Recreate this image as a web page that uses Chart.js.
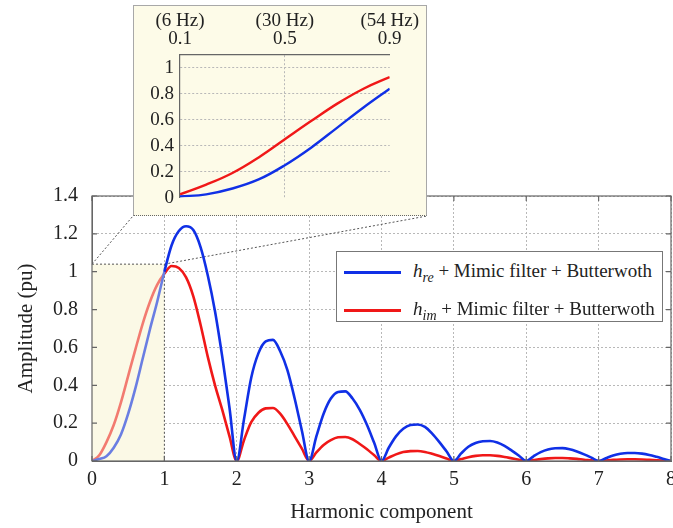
<!DOCTYPE html>
<html>
<head>
<meta charset="utf-8">
<script src="https://cdn.jsdelivr.net/npm/chart.js@4.4.1/dist/chart.umd.min.js"></script>
<style>
    html, body { margin: 0; padding: 0; width: 673px; height: 528px; overflow: hidden; background: #fff; }
    #mainWrap { position: absolute; left: 0; top: 0; width: 683px; height: 528px; }
    #inset { position: absolute; left: 133px; top: 5px; width: 292px; height: 209px;
             background: #fdfbe8; border: 1px solid #a8a8a8; border-bottom: 1px dotted #666; }
    #insetWrap { position: absolute; left: 0; top: 0; width: 292px; height: 209px; }
    #legend { position: absolute; left: 336px; top: 251px; width: 325px; height: 69px;
              border: 1px solid #777; background: #fff; font-family: "Liberation Serif", serif;
              font-size: 19px; color: #222; }
    .row { position: absolute; left: 0; height: 30px; width: 100%; }
    .swatch { position: absolute; left: 7px; top: 14px; width: 57px; height: 3px; }
    .label { position: absolute; left: 76px; top: 3px; white-space: nowrap; }
    .label sub { font-size: 14px; vertical-align: -5px; line-height: 0; }
</style>
</head>
<body>
<div id="mainWrap"><canvas id="mainChart"></canvas></div>
<div id="inset"><div id="insetWrap"><canvas id="insetChart"></canvas></div></div>
<div id="legend">
    <div class="row" style="top:5px"><div class="swatch" style="background:#1030e6"></div>
        <div class="label"><i>h</i><sub><i>re</i></sub> + Mimic filter + Butterwoth</div></div>
    <div class="row" style="top:43px"><div class="swatch" style="background:#f01818"></div>
        <div class="label"><i>h</i><sub><i>im</i></sub> + Mimic filter + Butterwoth</div></div>
</div>
<script>
// Harmonic component axis (x) of the main plot
const HARMONIC = [
    0, 0.1, 0.2, 0.3, 0.4, 0.5, 0.6, 0.7, 0.8, 0.9, 1,
    1.1, 1.2, 1.3, 1.4, 1.5, 1.6, 1.7, 1.8, 1.9, 2,
    2.1, 2.2, 2.3, 2.4, 2.5, 2.6, 2.7, 2.8, 2.9, 3,
    3.1, 3.2, 3.3, 3.4, 3.5, 3.6, 3.7, 3.8, 3.9, 4,
    4.1, 4.2, 4.3, 4.4, 4.5, 4.6, 4.7, 4.8, 4.9, 5,
    5.1, 5.2, 5.3, 5.4, 5.5, 5.6, 5.7, 5.8, 5.9, 6,
    6.1, 6.2, 6.3, 6.4, 6.5, 6.6, 6.7, 6.8, 6.9, 7,
    7.1, 7.2, 7.3, 7.4, 7.5, 7.6, 7.7, 7.8, 7.9, 8
];

// h_re + Mimic filter + Butterwoth
const RE_AMPLITUDE = [
    0, 0.01, 0.025, 0.07, 0.14, 0.25, 0.385, 0.54, 0.695, 0.84, 1.0,
    1.14, 1.215, 1.24, 1.22, 1.13, 0.98, 0.79, 0.55, 0.28, 0,
    0.22, 0.44, 0.57, 0.632, 0.64, 0.58, 0.48, 0.33, 0.16, 0,
    0.13, 0.25, 0.33, 0.365, 0.368, 0.33, 0.27, 0.19, 0.095, 0,
    0.07, 0.13, 0.17, 0.19, 0.193, 0.18, 0.145, 0.10, 0.05, 0,
    0.04, 0.075, 0.095, 0.104, 0.106, 0.098, 0.08, 0.055, 0.028, 0,
    0.025, 0.047, 0.061, 0.067, 0.068, 0.062, 0.05, 0.035, 0.018, 0,
    0.015, 0.029, 0.038, 0.042, 0.042, 0.039, 0.032, 0.022, 0.011, 0
];

// h_im + Mimic filter + Butterwoth
const IM_AMPLITUDE = [
    0, 0.03, 0.10, 0.19, 0.31, 0.45, 0.59, 0.725, 0.84, 0.93, 0.99,
    1.03, 1.02, 0.97, 0.87, 0.72, 0.55, 0.40, 0.27, 0.13, 0,
    0.11, 0.205, 0.255, 0.278, 0.28, 0.25, 0.195, 0.13, 0.065, 0,
    0.045, 0.085, 0.11, 0.125, 0.127, 0.115, 0.09, 0.062, 0.03, 0,
    0.018, 0.035, 0.047, 0.052, 0.053, 0.048, 0.038, 0.026, 0.013, 0,
    0.01, 0.02, 0.027, 0.03, 0.03, 0.027, 0.021, 0.014, 0.007, 0,
    0.005, 0.01, 0.014, 0.016, 0.016, 0.014, 0.011, 0.007, 0.004, 0,
    0.003, 0.006, 0.008, 0.009, 0.009, 0.008, 0.006, 0.004, 0.002, 0
];

// Zoomed window (shaded in the main plot)
const ZOOM_X = [0, 1];
const ZOOM_TOP = 1.04;

// Inset data
const INSET_FREQ = [0.1, 0.2, 0.3, 0.4, 0.5, 0.6, 0.7, 0.8, 0.9];
const INSET_RE = [0.008, 0.025, 0.07, 0.14, 0.25, 0.385, 0.54, 0.695, 0.84];
const INSET_IM = [0.025, 0.10, 0.19, 0.31, 0.45, 0.59, 0.725, 0.84, 0.93];
const INSET_X_TICKS = [0.1, 0.5, 0.9];
const INSET_X_HZ = ["(6 Hz)", "(30 Hz)", "(54 Hz)"];

const SERIF = "'Liberation Serif', 'Times New Roman', serif";
const TEXT = "#222";
const GRID = "#b8b8b8";
const AXIS = "#666";
const BLUE = "#1030e6";
const RED = "#f01818";
const BLUE_LIGHT = "#6a7ee2";
const RED_LIGHT = "#f27b70";
const BEIGE = "#fbf9e6";

const fmt = v => String(Math.round(v * 10) / 10);

// Shaded zoom window plus the dotted leaders running to the inset box
const zoomWindow = {
    id: "zoomWindow",
    beforeDatasetsDraw(chart) {
        const { ctx, scales: { x, y } } = chart;
        const x0 = x.getPixelForValue(ZOOM_X[0]);
        const x1 = x.getPixelForValue(ZOOM_X[1]);
        const yb = y.getPixelForValue(0);
        const yt = y.getPixelForValue(ZOOM_TOP);
        const box = document.getElementById("inset").getBoundingClientRect();
        const cv = chart.canvas.getBoundingClientRect();
        const bl = box.left - cv.left, br = box.right - cv.left, bb = box.bottom - cv.top;

        ctx.save();
        ctx.fillStyle = BEIGE;
        ctx.fillRect(x0, yt, x1 - x0, yb - yt);
        ctx.setLineDash([2, 2]);
        ctx.strokeStyle = "#555";
        ctx.lineWidth = 1;
        ctx.beginPath();
        ctx.moveTo(x0, yt); ctx.lineTo(x1, yt); ctx.lineTo(x1, yb);
        ctx.moveTo(x0, yt); ctx.lineTo(bl, bb);
        ctx.moveTo(x1, yt); ctx.lineTo(br, bb);
        ctx.stroke();
        ctx.restore();
    }
};

// Full frame with small inward ticks
const frame = {
    id: "frame",
    afterDatasetsDraw(chart) {
        const { ctx, chartArea: a, scales: { x, y } } = chart;
        ctx.save();
        ctx.strokeStyle = AXIS;
        ctx.lineWidth = 1.2;
        ctx.strokeRect(a.left, a.top, a.right - a.left, a.bottom - a.top);
        ctx.beginPath();
        x.ticks.forEach(t => {
            const px = x.getPixelForValue(t.value);
            ctx.moveTo(px, a.top); ctx.lineTo(px, a.top + 5);
            ctx.moveTo(px, a.bottom); ctx.lineTo(px, a.bottom - 5);
        });
        y.ticks.forEach(t => {
            const py = y.getPixelForValue(t.value);
            ctx.moveTo(a.right, py); ctx.lineTo(a.right - 5, py);
            ctx.moveTo(a.left, py); ctx.lineTo(a.left + 5, py);
        });
        ctx.stroke();
        ctx.restore();
    }
};

new Chart(document.getElementById("mainChart"), {
    type: "line",
    data: {
        datasets: [{
            label: "h_re + Mimic filter + Butterwoth",
            data: HARMONIC.map((h, i) => ({ x: h, y: RE_AMPLITUDE[i] })),
            borderColor: BLUE,
            borderWidth: 2.6,
            pointRadius: 0,
            cubicInterpolationMode: "monotone",
            segment: { borderColor: c => c.p1.parsed.x <= ZOOM_X[1] ? BLUE_LIGHT : undefined }
        }, {
            label: "h_im + Mimic filter + Butterwoth",
            data: HARMONIC.map((h, i) => ({ x: h, y: IM_AMPLITUDE[i] })),
            borderColor: RED,
            borderWidth: 2.6,
            pointRadius: 0,
            cubicInterpolationMode: "monotone",
            segment: { borderColor: c => c.p1.parsed.x <= ZOOM_X[1] ? RED_LIGHT : undefined }
        }]
    },
    options: {
        responsive: true,
        maintainAspectRatio: false,
        animation: false,
        layout: { padding: { top: 196, right: 12, left: 0, bottom: 0 } },
        plugins: { legend: { display: false }, tooltip: { enabled: false } },
        scales: {
            x: {
                type: "linear", min: 0, max: 8,
                ticks: { stepSize: 1, padding: 7, color: TEXT, font: { family: SERIF, size: 20 } },
                grid: { color: GRID, drawTicks: false, borderDash: [2, 2] },
                border: { display: true, color: AXIS, width: 1, dash: [2, 2] },
                title: { display: true, text: "Harmonic component", color: TEXT,
                         font: { family: SERIF, size: 21 }, padding: { top: 0, bottom: 3 } },
                afterFit: s => { s.height = 67; }
            },
            y: {
                min: 0, max: 1.4,
                ticks: { stepSize: 0.2, padding: 14, color: TEXT, font: { family: SERIF, size: 20 }, callback: fmt },
                grid: { color: GRID, drawTicks: false, borderDash: [2, 2] },
                border: { display: true, color: AXIS, width: 1, dash: [2, 2] },
                title: { display: true, text: "Amplitude (pu)", color: TEXT,
                         font: { family: SERIF, size: 21 }, padding: { top: 14, bottom: 0 } },
                afterFit: s => { s.width = 92; }
            }
        }
    },
    plugins: [zoomWindow, frame]
});

new Chart(document.getElementById("insetChart"), {
    type: "line",
    data: {
        datasets: [{
            data: INSET_FREQ.map((f, i) => ({ x: f, y: INSET_RE[i] })),
            borderColor: BLUE, borderWidth: 2.4, pointRadius: 0, tension: 0.4
        }, {
            data: INSET_FREQ.map((f, i) => ({ x: f, y: INSET_IM[i] })),
            borderColor: RED, borderWidth: 2.4, pointRadius: 0, tension: 0.4
        }]
    },
    options: {
        responsive: true,
        maintainAspectRatio: false,
        animation: false,
        layout: { padding: { top: 0, right: 34, left: 0, bottom: 13 } },
        plugins: { legend: { display: false }, tooltip: { enabled: false } },
        scales: {
            x: {
                type: "linear", position: "top", min: 0.1, max: 0.9,
                afterBuildTicks: s => { s.ticks = INSET_X_TICKS.map(v => ({ value: v })); },
                ticks: { padding: 7, color: TEXT, font: { family: SERIF, size: 19, lineHeight: 0.95 },
                         callback: (v, i) => [INSET_X_HZ[i], fmt(v)] },
                grid: { drawTicks: false, borderDash: [2, 2],
                        color: c => (c.tick && c.tick.value === 0.5) ? GRID : "rgba(0,0,0,0)" },
                border: { display: true, color: AXIS, width: 1.2, dash: [2, 2] },
                afterFit: s => { s.height = 49; }
            },
            y: {
                min: 0, max: 1.1,
                ticks: { stepSize: 0.2, includeBounds: false, padding: 6, color: TEXT,
                         font: { family: SERIF, size: 19 }, callback: fmt },
                grid: { drawTicks: false, borderDash: [2, 2],
                        color: c => (c.tick && c.tick.value > 0) ? GRID : "rgba(0,0,0,0)" },
                border: { display: true, color: AXIS, width: 1.2, dash: [2, 2] },
                afterFit: s => { s.width = 46; }
            }
        }
    }
});
</script>
</body>
</html>
